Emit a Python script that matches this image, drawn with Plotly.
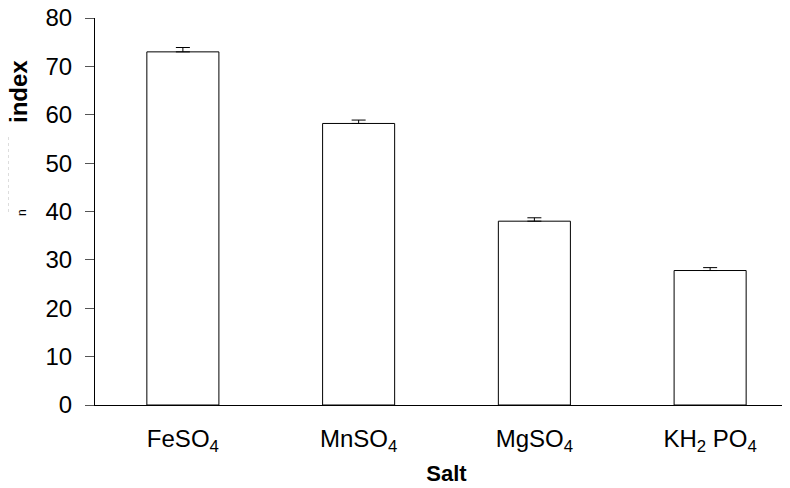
import plotly.graph_objects as go

categories = ["FeSO<sub>4</sub>", "MnSO<sub>4</sub>", "MgSO<sub>4</sub>", "KH<sub>2</sub> PO<sub>4</sub>"]
values = [73.0, 58.2, 38.0, 27.8]
errors = [0.9, 0.7, 0.7, 0.6]
y_ticks = [0, 10, 20, 30, 40, 50, 60, 70, 80]

# screen-to-paper helpers (page has 8px body margin)
PL, PW, PT, PB = 95, 703, 18, 405
def px(sx):
    return (sx - PL) / PW
def py(sy):
    return (PB - sy) / (PB - PT)

fig = go.Figure()
fig.add_trace(go.Bar(
    x=list(range(len(categories))), y=values, width=0.41,
    marker=dict(color="white", line=dict(color="black", width=1)),
    error_y=dict(type="data", array=errors, arrayminus=[0]*len(errors), symmetric=False,
                 color="black", thickness=1, width=7),
    cliponaxis=False,
))

fig.update_layout(
    width=790, height=488,
    margin=dict(l=87, r=0, t=10, b=91),
    paper_bgcolor="white", plot_bgcolor="white",
    font=dict(family="Liberation Sans, Arial, sans-serif", color="black"),
    showlegend=False,
    xaxis=dict(range=[-0.5, 3.5], tickvals=list(range(len(categories))), ticktext=categories,
               showline=True, linecolor="black", linewidth=1, ticks="", showgrid=False,
               zeroline=False, tickfont=dict(size=24), ticklabelstandoff=12, automargin=False,
               title=dict(text="<b>Salt</b>", font=dict(size=22), standoff=10)),
    yaxis=dict(range=[0, 80], tickvals=y_ticks, showline=True, linecolor="black", linewidth=1,
               ticks="outside", ticklen=9, tickcolor="#555", showgrid=False, zeroline=False,
               tickfont=dict(size=24), ticklabelstandoff=8, ticklabeloverflow="allow",
               automargin=False),
)
fig.add_annotation(text="<b>index</b>", xref="paper", yref="paper", x=px(18), y=py(92),
                   xanchor="center", yanchor="middle", textangle=-90, showarrow=False,
                   font=dict(size=24, color="black"))
fig.add_annotation(text="n", xref="paper", yref="paper", x=px(22), y=py(213),
                   xanchor="center", yanchor="middle", textangle=-90, showarrow=False,
                   font=dict(size=12, color="black"))
fig.add_shape(type="line", xref="paper", yref="paper", x0=px(8), x1=px(8), y0=py(137), y1=py(215),
              line=dict(color="#bbbbbb", width=1, dash="dot"))
fig.write_html("out.html")
